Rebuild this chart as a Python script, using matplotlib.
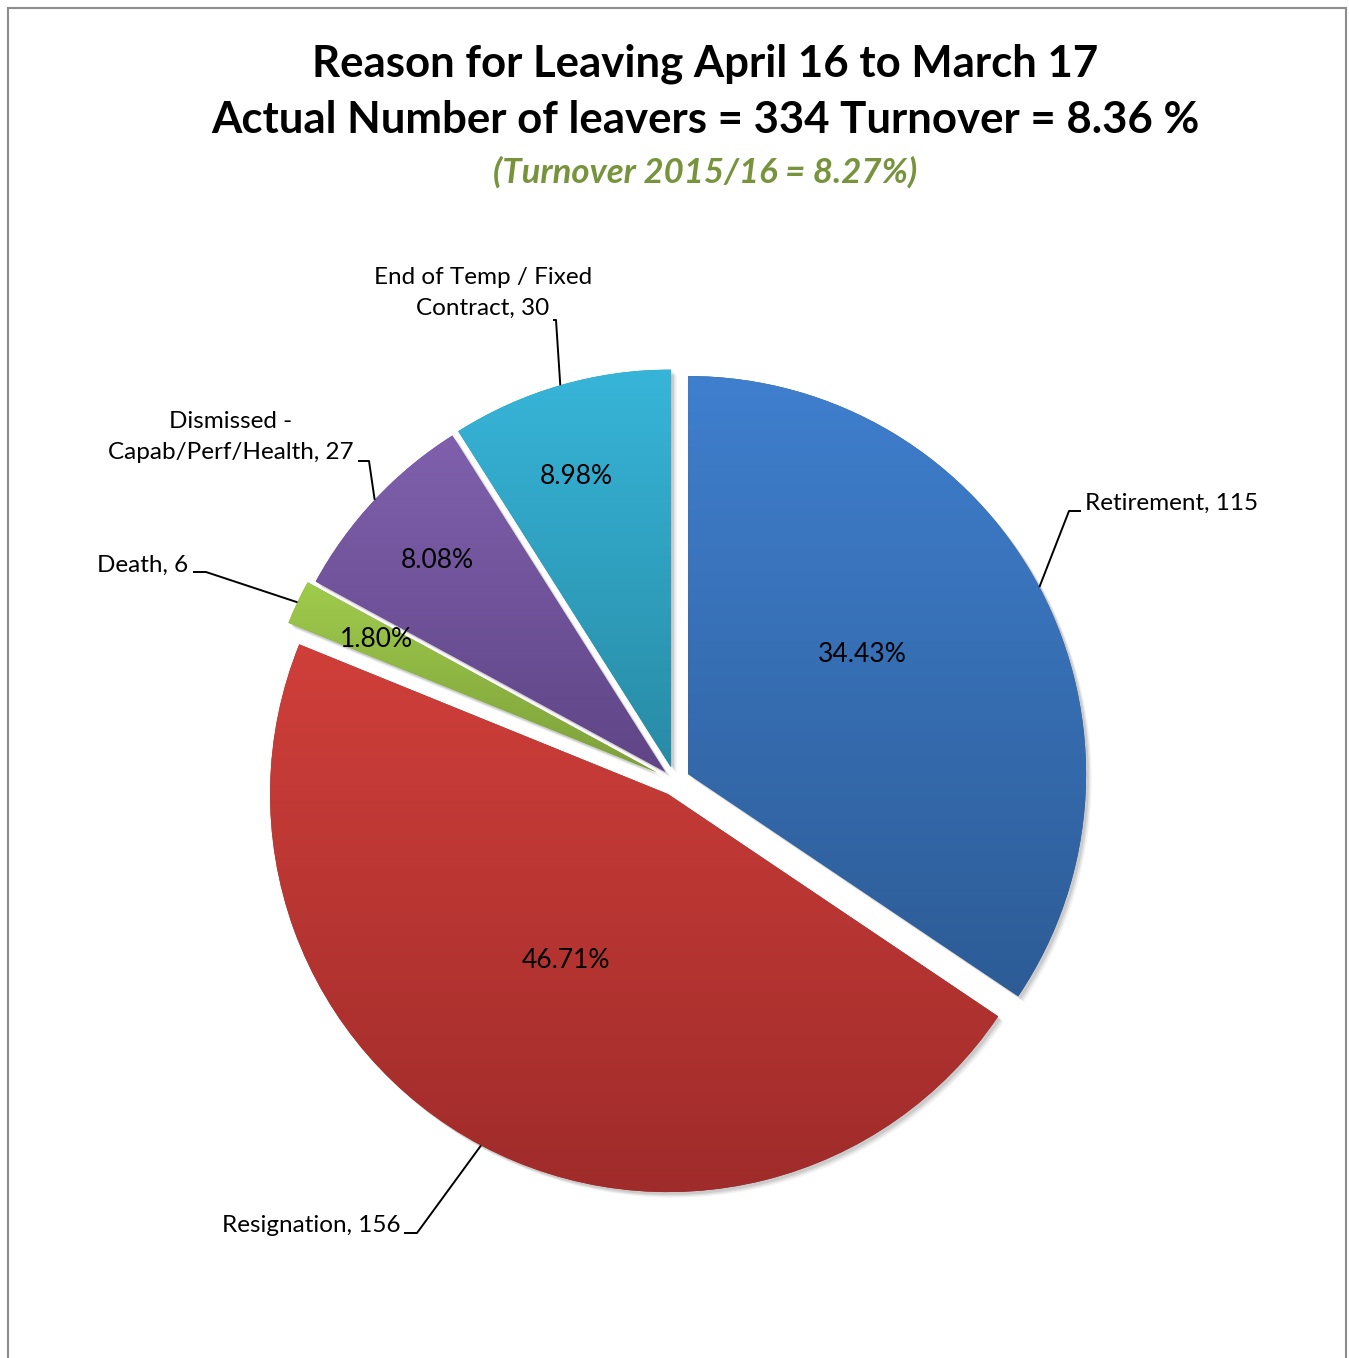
import numpy as np
import matplotlib
matplotlib.use("Agg")
import matplotlib.pyplot as plt
import matplotlib.patheffects as pe
from matplotlib.colors import LinearSegmentedColormap
from matplotlib.patches import Rectangle

# ---- data -------------------------------------------------------------
categories = ["Retirement", "Resignation", "Death",
              "Dismissed -\nCapab/Perf/Health", "End of Temp / Fixed\nContract"]
leavers = [115, 156, 6, 27, 30]

title_lines = ["Reason for Leaving April 16 to March 17",
               "Actual Number of leavers = 334 Turnover = 8.36 %"]
subtitle = "(Turnover 2015/16 = 8.27%)"

# ---- styling ------------------------------------------------------------
top_colors = ["#3F7FCE", "#D03F3A", "#9FCB4C", "#8060AD", "#37B5D9"]
bottom_colors = ["#2D5C96", "#9E2B2A", "#7DA03A", "#5F4586", "#288BA5"]
# slice offsets from the pie centre, in axis (pixel) units
explode = [14.8, 14.8, 19.7, 13.4, 14.0]

plt.rcParams["font.family"] = ["Lato", "DejaVu Sans"]

W, H = 1349, 1358
R = 398
CX, CY = 675, H - 781

fig = plt.figure(figsize=(W / 100, H / 100), dpi=100)
ax = fig.add_axes([0, 0, 1, 1])

wedges, _ = ax.pie(leavers, explode=explode, startangle=90, counterclock=False,
                   radius=R, center=(CX, CY))

# soft drop shadow built from a few faint offset copies
soft_shadow = [pe.SimplePatchShadow(offset=(o, -o), shadow_rgbFace="black", alpha=a)
               for o, a in ((4.0, 0.05), (3.0, 0.07), (2.0, 0.09))] + [pe.Normal()]

# vertical gradient fill for each slice, clipped to the wedge outline
for w, c_top, c_bot in zip(wedges, top_colors, bottom_colors):
    w.set_facecolor(c_bot)
    w.set_edgecolor("none")
    w.set_path_effects(soft_shadow)
    verts = w.get_path().vertices
    x0, y0 = verts.min(axis=0)
    x1, y1 = verts.max(axis=0)
    cmap = LinearSegmentedColormap.from_list("g", [c_bot, c_top])
    grad = np.linspace(0, 1, 256).reshape(-1, 1)
    im = ax.imshow(grad, cmap=cmap, origin="lower", extent=(x0, x1, y0, y1),
                   aspect="auto", interpolation="bicubic", zorder=2)
    im.set_clip_path(w)

# percentage labels inside slices
total = sum(leavers)
pct_radius = [0.53, 0.49, 0.78, 0.78, 0.77]
pct_shift = [6.5, -3.4, 0.0, 0.3, 1.8]
for w, v, fr, sh in zip(wedges, leavers, pct_radius, pct_shift):
    ang = np.deg2rad((w.theta1 + w.theta2) / 2 + sh)
    cx, cy = w.center
    ax.text(cx + fr * R * np.cos(ang), cy + fr * R * np.sin(ang),
            f"{v / total * 100:.2f}%", ha="center", va="center",
            fontsize=19, color="black", zorder=5)

# category labels with leader lines
label_pos = [(1085, 503, "left"), (400, 1226, "right"), (188, 565, "right"),
             (231, 437, "center"), (483, 293, "center")]
elbows = [[(1069, 511), (1081, 511)],
          [(417, 1233), (404, 1233)],
          [(206, 572), (193, 572)],
          [(369, 461), (358, 461)],
          [(556, 320), (553, 320)]]
for w, cat, v, (lx, ly, ha), elb in zip(wedges, categories, leavers, label_pos, elbows):
    ang = np.deg2rad((w.theta1 + w.theta2) / 2)
    cx, cy = w.center
    sx, sy = cx + R * np.cos(ang), cy + R * np.sin(ang)
    xs = [sx] + [p[0] for p in elb]
    ys = [sy] + [H - p[1] for p in elb]
    ax.plot(xs, ys, color="black", lw=1.4, zorder=4, solid_capstyle="butt")
    ax.text(lx, H - ly, f"{cat}, {v}", ha=ha, va="center", multialignment="center",
            fontsize=17.5, color="black", linespacing=1.6, zorder=5)

# titles
ax.text(705, H - 77, title_lines[0], ha="center", va="baseline",
        fontsize=31.5, fontweight="bold", color="black")
ax.text(705, H - 133, title_lines[1], ha="center", va="baseline",
        fontsize=31.5, fontweight="bold", color="black")
ax.text(705, H - 183, subtitle, ha="center", va="baseline",
        fontsize=25, fontweight="bold", fontstyle="italic", color="#77933C")

# outer chart frame
ax.add_patch(Rectangle((8, -20), W - 8 - 3, H - 8 + 20, fill=False,
                       edgecolor="#8C8C8C", lw=1.5, zorder=6))

ax.set_xlim(0, W)
ax.set_ylim(0, H)
ax.set_aspect("equal")
ax.axis("off")

fig.savefig("out.png", dpi=100, facecolor="white")
